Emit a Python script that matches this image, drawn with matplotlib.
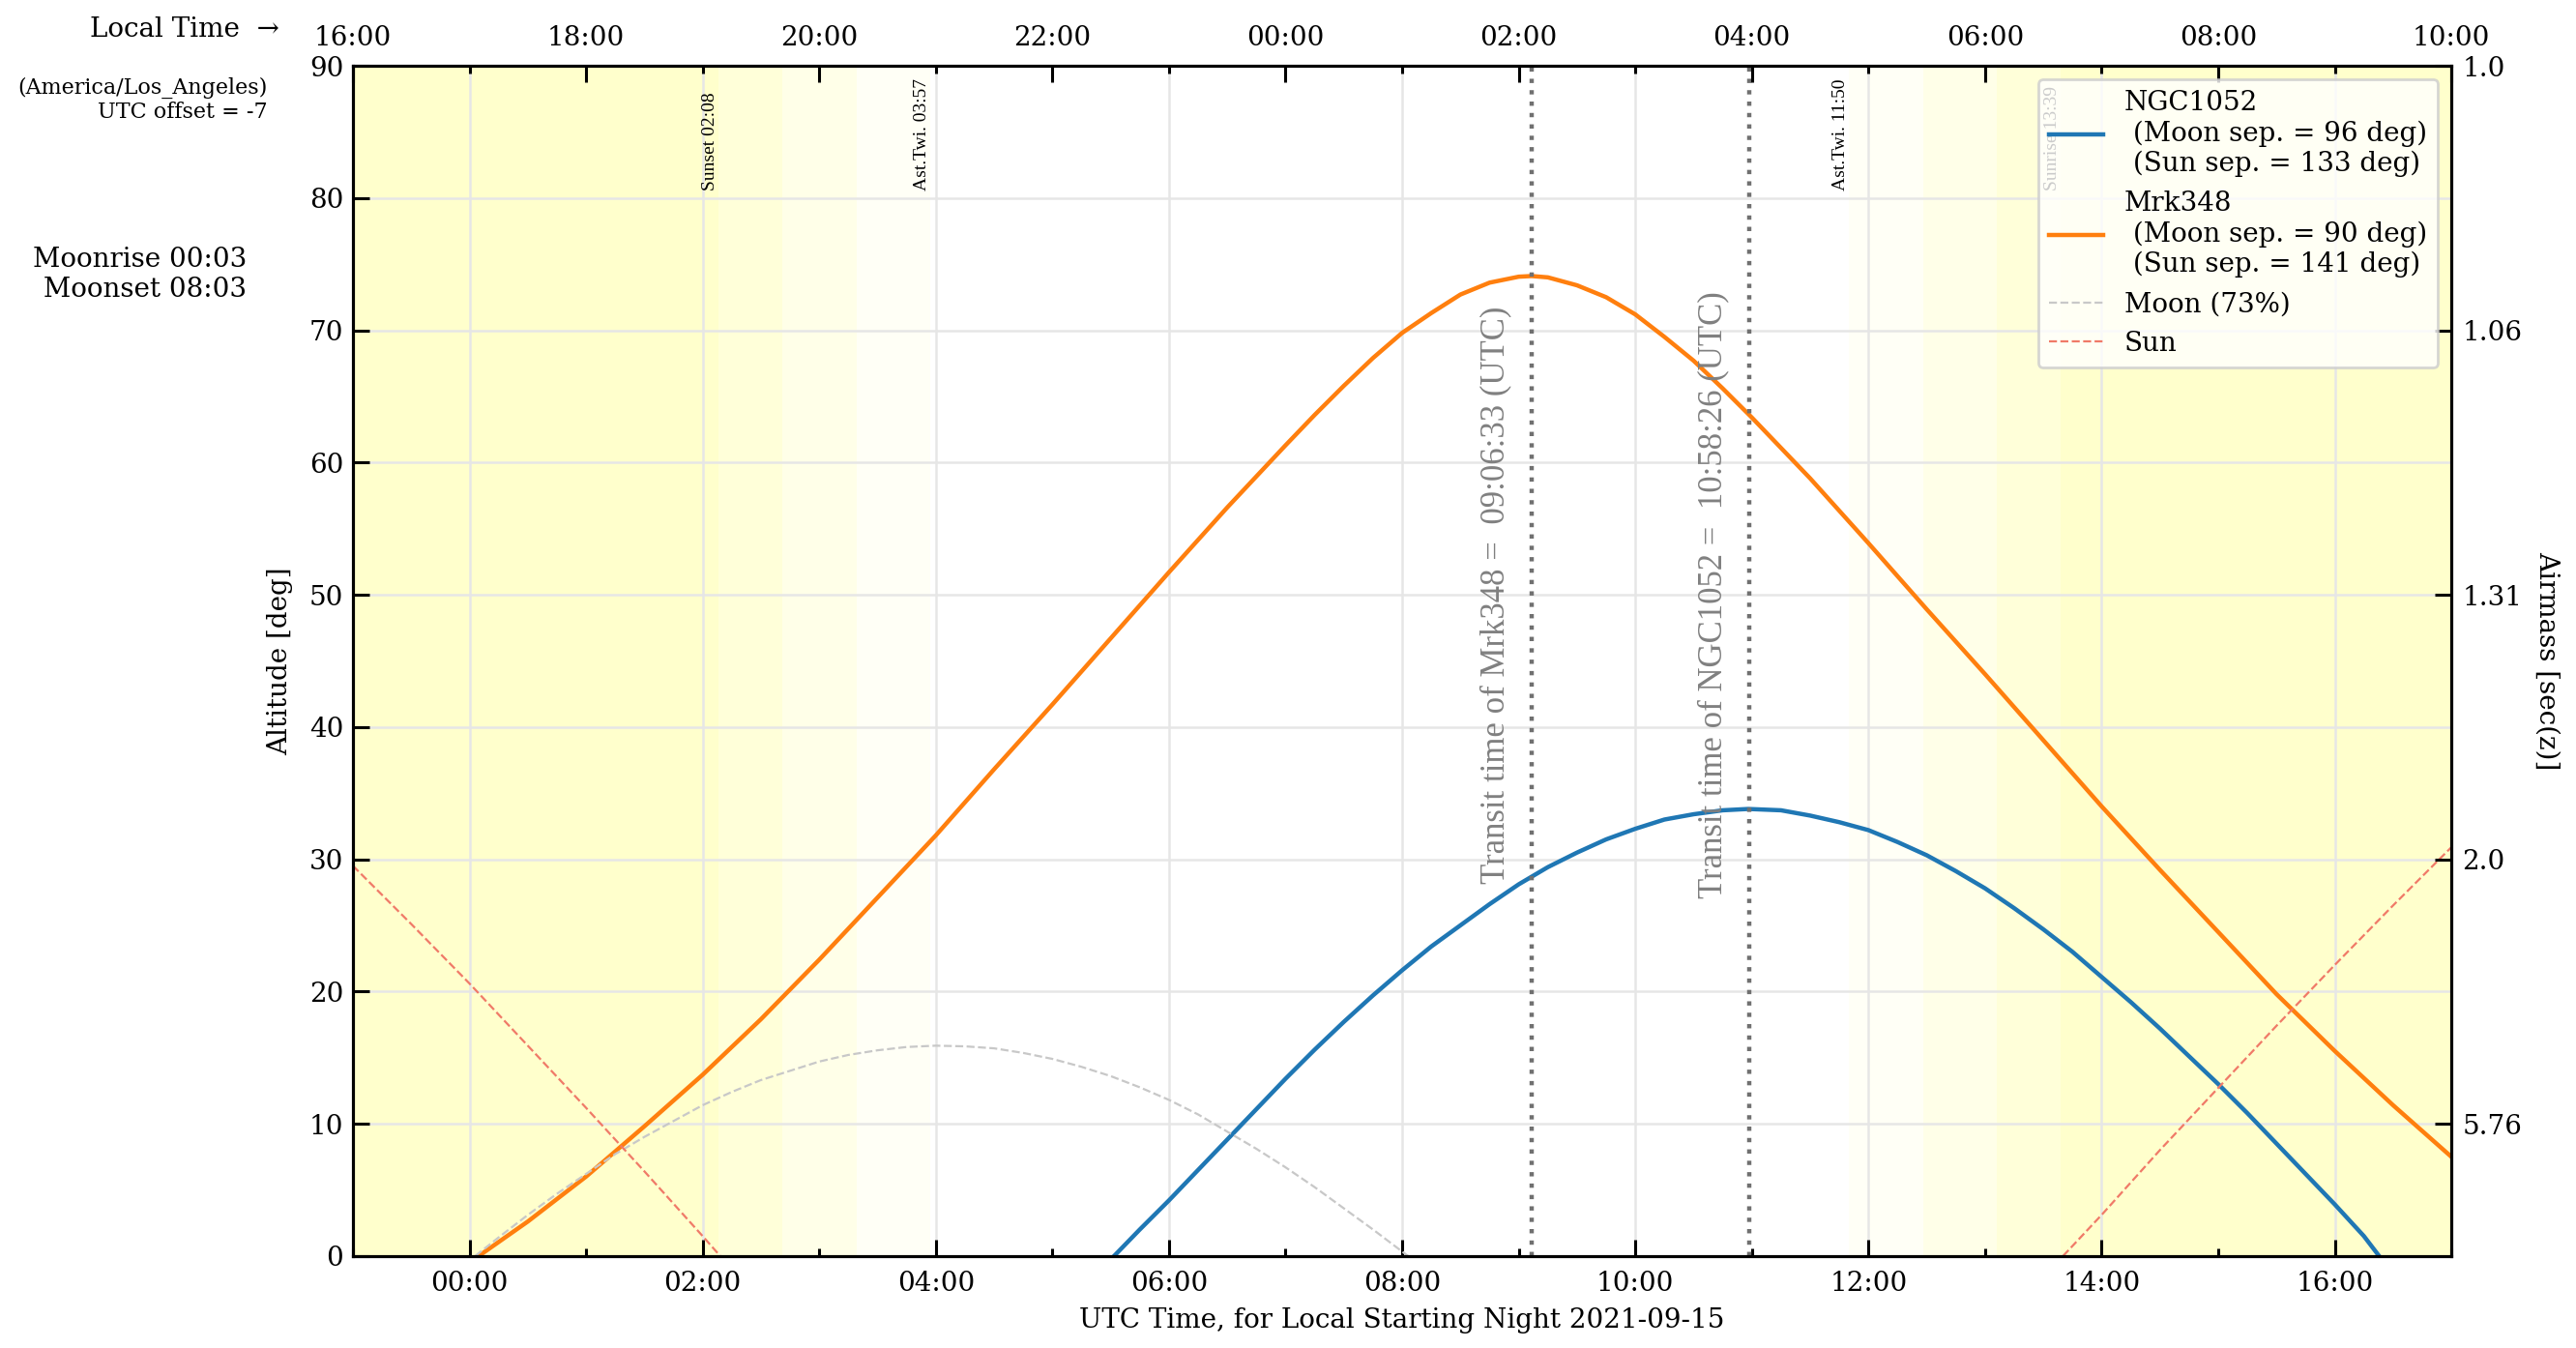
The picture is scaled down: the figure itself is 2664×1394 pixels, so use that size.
import matplotlib
matplotlib.use("Agg")
import matplotlib.pyplot as plt
from matplotlib.ticker import MultipleLocator

# altitude tracks, x in UTC hours of the night 2021-09-15
ngc1052_t = [5.53, 5.75, 6, 6.25, 6.5, 6.75, 7, 7.25, 7.5, 7.75, 8, 8.25, 8.5,
             8.75, 9, 9.25, 9.5, 9.75, 10, 10.25, 10.5, 10.75, 10.97, 11.25,
             11.5, 11.75, 12, 12.25, 12.5, 12.75, 13, 13.25, 13.5, 13.75, 14,
             14.25, 14.5, 14.75, 15, 15.25, 15.5, 15.75, 16, 16.25, 16.38]
ngc1052_alt = [0, 2.0, 4.2, 6.5, 8.8, 11.1, 13.4, 15.6, 17.7, 19.7, 21.6, 23.4,
               25.0, 26.6, 28.1, 29.4, 30.5, 31.5, 32.3, 33.0, 33.4, 33.7, 33.8,
               33.7, 33.3, 32.8, 32.2, 31.3, 30.3, 29.1, 27.8, 26.3, 24.7, 23.0,
               21.1, 19.2, 17.2, 15.1, 13.0, 10.8, 8.5, 6.2, 3.9, 1.5, 0]

mrk348_t = [0.08, 0.5, 1, 1.5, 2, 2.5, 3, 3.5, 4, 4.5, 5, 5.5, 6, 6.5, 7, 7.25,
            7.5, 7.75, 8, 8.25, 8.5, 8.75, 9, 9.11, 9.25, 9.5, 9.75, 10, 10.25,
            10.5, 10.75, 11, 11.5, 12, 12.5, 13, 13.5, 14, 14.5, 15, 15.5, 16,
            16.5, 17]
mrk348_alt = [0, 2.6, 6.0, 9.8, 13.7, 17.9, 22.4, 27.1, 31.8, 36.8, 41.7, 46.7,
              51.7, 56.6, 61.3, 63.6, 65.8, 67.9, 69.8, 71.3, 72.7, 73.6, 74.05,
              74.1, 74.0, 73.4, 72.5, 71.2, 69.5, 67.7, 65.6, 63.4, 58.8, 53.9,
              48.9, 44.0, 39.0, 34.0, 29.2, 24.5, 19.8, 15.5, 11.4, 7.5]

moon_t = [0.05, 0.25, 0.5, 0.75, 1, 1.25, 1.5, 1.75, 2, 2.25, 2.5, 2.75, 3, 3.25,
          3.5, 3.75, 4, 4.25, 4.5, 4.75, 5, 5.25, 5.5, 5.75, 6, 6.25, 6.5, 6.75,
          7, 7.25, 7.5, 7.75, 8.05]
moon_alt = [0, 1.4, 3.1, 4.7, 6.2, 7.7, 9.0, 10.2, 11.4, 12.4, 13.3, 14.0, 14.7,
            15.2, 15.55, 15.8, 15.9, 15.85, 15.7, 15.35, 14.9, 14.3, 13.6, 12.75,
            11.8, 10.7, 9.4, 8.1, 6.7, 5.2, 3.6, 2.0, 0]

sun_eve_t = [-1, -0.5, 0, 0.5, 1, 1.5, 2, 2.15]
sun_eve_alt = [29.5, 25.1, 20.6, 15.9, 11.2, 6.4, 1.5, 0]
sun_morn_t = [13.67, 14, 14.5, 15, 15.5, 16, 16.5, 17]
sun_morn_alt = [0, 3.1, 8.0, 12.7, 17.4, 22.0, 26.5, 30.9]

# sun events (UTC hours)
sunset, civil_end, naut_end, astro_end = 2.133, 2.68, 3.32, 3.95
astro_start, naut_start, civil_start, sunrise = 11.833, 12.47, 13.1, 13.65

transit_mrk348 = 9.109
transit_ngc1052 = 10.974

utc_ticks = [0, 2, 4, 6, 8, 10, 12, 14, 16]
utc_labels = ["00:00", "02:00", "04:00", "06:00", "08:00", "10:00", "12:00",
              "14:00", "16:00"]
local_ticks = [-1, 1, 3, 5, 7, 9, 11, 13, 15, 17]
local_labels = ["16:00", "18:00", "20:00", "22:00", "00:00", "02:00", "04:00",
                "06:00", "08:00", "10:00"]
airmass_alt = [90, 70, 50, 30, 10]
airmass_labels = ["1.0", "1.06", "1.31", "2.0", "5.76"]

plt.rcParams["font.family"] = ["DejaVu Serif", "DejaVu Sans"]
plt.rcParams["font.size"] = 10

fig = plt.figure(figsize=(13.32, 6.97), dpi=200)
ax = fig.add_axes([0.137, 0.0683, 0.8146, 0.8829])
ax.set_xlim(-1, 17)
ax.set_ylim(0, 90)

# daylight / twilight shading
ax.axvspan(-1, sunset, color="yellow", alpha=0.2, lw=0, zorder=0)
ax.axvspan(sunset, civil_end, color="yellow", alpha=0.15, lw=0, zorder=0)
ax.axvspan(civil_end, naut_end, color="yellow", alpha=0.09, lw=0, zorder=0)
ax.axvspan(naut_end, astro_end, color="yellow", alpha=0.035, lw=0, zorder=0)
ax.axvspan(astro_start, naut_start, color="yellow", alpha=0.035, lw=0, zorder=0)
ax.axvspan(naut_start, civil_start, color="yellow", alpha=0.09, lw=0, zorder=0)
ax.axvspan(civil_start, sunrise, color="yellow", alpha=0.15, lw=0, zorder=0)
ax.axvspan(sunrise, 17, color="yellow", alpha=0.2, lw=0, zorder=0)

small = dict(rotation=90, ha="right", va="bottom", fontsize=7, family="Liberation Serif")
ax.text(sunset, 80.6, "Sunset 02:08", **small)
ax.text(astro_end, 80.6, "Ast.Twi. 03:57", **small)
ax.text(astro_start, 80.6, "Ast.Twi. 11:50", **small)
ax.text(sunrise, 80.6, "Sunrise 13:39", **small)

ax.grid(True, which="major", color="#e6e6e6", lw=0.9, zorder=1)
ax.set_axisbelow(True)

ax.plot(ngc1052_t, ngc1052_alt, color="#1f77b4", lw=1.6,
        label="NGC1052\n (Moon sep. = 96 deg)\n (Sun sep. = 133 deg)")
ax.plot(mrk348_t, mrk348_alt, color="#ff7f0e", lw=1.6,
        label="Mrk348\n (Moon sep. = 90 deg)\n (Sun sep. = 141 deg)")
ax.plot(moon_t, moon_alt, color="#c8c8c8", ls="--", lw=0.8, label="Moon (73%)")
ax.plot(sun_eve_t, sun_eve_alt, color="#f07a68", ls="--", lw=0.8, label="Sun")
ax.plot(sun_morn_t, sun_morn_alt, color="#f07a68", ls="--", lw=0.8)

tr = dict(rotation=90, ha="right", va="center", fontsize=12.5, color="gray",
          family="Liberation Serif")
ax.axvline(transit_mrk348, color="#707070", ls=":", lw=1.6)
ax.axvline(transit_ngc1052, color="#707070", ls=":", lw=1.6)
ax.text(transit_mrk348 - 0.17, 50, "Transit time of Mrk348 =  09:06:33 (UTC)", **tr)
ax.text(transit_ngc1052 - 0.17, 50, "Transit time of NGC1052 =  10:58:26 (UTC)", **tr)

ax.set_xticks(utc_ticks)
ax.set_xticklabels(utc_labels)
ax.xaxis.set_minor_locator(MultipleLocator(1))
ax.set_yticks(range(0, 91, 10))
ax.tick_params(which="both", direction="in", top=False, right=False, width=1.1)
ax.tick_params(which="major", length=6)
ax.tick_params(which="minor", length=3)
ax.tick_params(axis="x", pad=5.5)
ax.set_xlabel("UTC Time, for Local Starting Night 2021-09-15", labelpad=4)
ax.set_ylabel("Altitude [deg]", labelpad=6)

ax_top = ax.twiny()
ax_top.set_xlim(-1, 17)
ax_top.set_xticks(local_ticks)
ax_top.set_xticklabels(local_labels)
ax_top.xaxis.set_minor_locator(MultipleLocator(1))
ax_top.tick_params(which="both", direction="in", width=1.1, pad=5.5)
ax_top.tick_params(which="major", length=6)
ax_top.tick_params(which="minor", length=3)

ax_r = ax.twinx()
ax_r.set_ylim(0, 90)
ax_r.set_yticks(airmass_alt)
ax_r.set_yticklabels(airmass_labels)
ax_r.tick_params(direction="in", length=6, width=1.1, pad=4)
ax_r.set_ylabel("Airmass [sec(z)]", rotation=270, labelpad=14)

for a in (ax, ax_top, ax_r):
    for s in a.spines.values():
        s.set_linewidth(1.1)

ax_r.legend(*ax.get_legend_handles_labels(), loc="upper right", fontsize=10,
            framealpha=0.8)

fig.text(0.1084, 0.978, "Local Time  \u2192", ha="right", va="center")
fig.text(0.104, 0.926, "(America/Los_Angeles)\nUTC offset = -7", ha="right",
         va="center", fontsize=8, multialignment="right")
fig.text(0.0957, 0.7963, "Moonrise 00:03\n Moonset 08:03", ha="right",
         va="center", multialignment="right")

fig.savefig("out.png", dpi=200)
